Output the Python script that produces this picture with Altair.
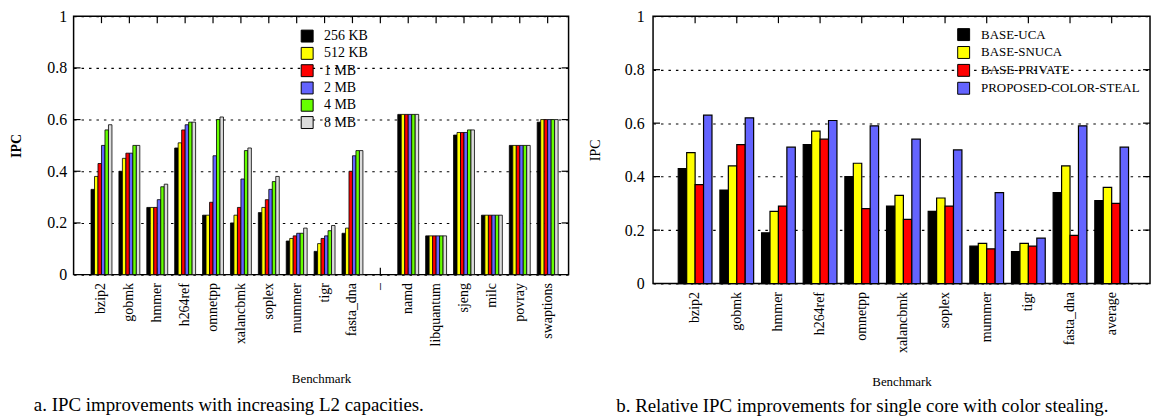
import altair as alt
import pandas as pd

FONT = "Liberation Serif"

# ---------------- Panel a data ----------------
left_categories = ["bzip2", "gobmk", "hmmer", "h264ref", "omnetpp", "xalancbmk", "soplex",
                   "mummer", "tigr", "fasta_dna", "\u2013", "namd", "libquantum", "sjeng",
                   "milc", "povray", "swaptions"]
left_bench = ["bzip2", "gobmk", "hmmer", "h264ref", "omnetpp", "xalancbmk", "soplex",
              "mummer", "tigr", "fasta_dna", "namd", "libquantum", "sjeng", "milc",
              "povray", "swaptions"]
left_series = ["256 KB", "512 KB", "1 MB", "2 MB", "4 MB", "8 MB"]
left_colors = ["#000000", "#ffff00", "#ff0000", "#6464ff", "#66ff00", "#dcdcdc"]
ipc_256kb = [0.33, 0.40, 0.26, 0.49, 0.23, 0.20, 0.24, 0.13, 0.09, 0.16, 0.62, 0.15, 0.54, 0.23, 0.50, 0.59]
ipc_512kb = [0.38, 0.45, 0.26, 0.51, 0.23, 0.23, 0.26, 0.14, 0.12, 0.18, 0.62, 0.15, 0.55, 0.23, 0.50, 0.60]
ipc_1mb = [0.43, 0.47, 0.26, 0.56, 0.28, 0.26, 0.29, 0.15, 0.14, 0.40, 0.62, 0.15, 0.55, 0.23, 0.50, 0.60]
ipc_2mb = [0.50, 0.47, 0.29, 0.58, 0.46, 0.37, 0.33, 0.16, 0.15, 0.46, 0.62, 0.15, 0.55, 0.23, 0.50, 0.60]
ipc_4mb = [0.56, 0.50, 0.34, 0.59, 0.60, 0.48, 0.36, 0.16, 0.17, 0.48, 0.62, 0.15, 0.56, 0.23, 0.50, 0.60]
ipc_8mb = [0.58, 0.50, 0.35, 0.59, 0.61, 0.49, 0.38, 0.18, 0.19, 0.48, 0.62, 0.15, 0.56, 0.23, 0.50, 0.60]
left_values = [ipc_256kb, ipc_512kb, ipc_1mb, ipc_2mb, ipc_4mb, ipc_8mb]

# ---------------- Panel b data ----------------
right_categories = ["bzip2", "gobmk", "hmmer", "h264ref", "omnetpp", "xalancbmk", "soplex",
                    "mummer", "tigr", "fasta_dna", "average"]
right_series = ["BASE-UCA", "BASE-SNUCA", "BASE-PRIVATE", "PROPOSED-COLOR-STEAL"]
right_colors = ["#000000", "#ffff00", "#ff0000", "#6464ff"]
base_uca = [0.43, 0.35, 0.19, 0.52, 0.40, 0.29, 0.27, 0.14, 0.12, 0.34, 0.31]
base_snuca = [0.49, 0.44, 0.27, 0.57, 0.45, 0.33, 0.32, 0.15, 0.15, 0.44, 0.36]
base_private = [0.37, 0.52, 0.29, 0.54, 0.28, 0.24, 0.29, 0.13, 0.14, 0.18, 0.30]
color_steal = [0.63, 0.62, 0.51, 0.61, 0.59, 0.54, 0.50, 0.34, 0.17, 0.59, 0.51]
right_values = [base_uca, base_snuca, base_private, color_steal]

y_ticks = [0, 0.2, 0.4, 0.6, 0.8, 1]
inner_ticks = [0.2, 0.4, 0.6, 0.8]


def long_df(bench, series, values):
    rows = []
    for s, vals in zip(series, values):
        for b, v in zip(bench, vals):
            rows.append({"bench": b, "series": s, "ipc": v})
    return pd.DataFrame(rows)


def panel(categories, bench, series, colors, values, W, H, xscale, legend_x, legend_y,
          legend_font, legend_row_pad, legend_offset, bar_stroke, y_title_weight,
          title_pad, label_pad, x_title_y, caption, cap_dx, cap_offset):
    df = long_df(bench, series, values)
    cat_df = pd.DataFrame({"bench": categories})
    tick_df = pd.DataFrame({"ipc": inner_ticks})

    xs = alt.Scale(domain=categories, **xscale)
    ys = alt.Scale(domain=[0, 1])
    xaxis = alt.Axis(title="Benchmark", labelAngle=-90, labelFontSize=14,
                     labelPadding=8, ticks=False, domain=False, grid=False,
                     titleFontSize=13, titleFontWeight="normal",
                     titleY=x_title_y, titleBaseline="top")
    yaxis = alt.Axis(title="IPC", values=y_ticks, format="~g", labelFontSize=16,
                     labelPadding=label_pad, ticks=False, domain=False,
                     grid=True, gridColor="black", gridDash=[2.5, 5],
                     gridWidth=1.1, titleFontSize=14,
                     titleFontWeight=y_title_weight, titlePadding=title_pad)
    X = alt.X("bench:N", sort=categories, scale=xs, axis=xaxis, title="Benchmark")
    Y = alt.Y("ipc:Q", scale=ys, axis=yaxis, title="IPC")

    bars = alt.Chart(df).mark_bar(stroke="black", strokeWidth=bar_stroke).encode(
        x=X,
        xOffset=alt.XOffset("series:N", sort=series,
                            scale=alt.Scale(domain=series, paddingInner=0, paddingOuter=0)),
        y=Y,
        fill=alt.Fill("series:N", sort=series,
                      scale=alt.Scale(domain=series, range=colors),
                      legend=alt.Legend(orient="none", legendX=legend_x, legendY=legend_y,
                                        title=None, symbolType="square", symbolSize=144,
                                        symbolStrokeColor="black", symbolStrokeWidth=1,
                                        symbolOpacity=1, labelFontSize=legend_font,
                                        labelFont=FONT, rowPadding=legend_row_pad,
                                        labelOffset=legend_offset, labelLimit=0,
                                        padding=0)),
    )

    top_ticks = alt.Chart(cat_df).mark_rule(color="black", strokeWidth=1.2).encode(
        x=X, y=alt.value(0), y2=alt.value(7))
    bottom_ticks = alt.Chart(cat_df).mark_rule(color="black", strokeWidth=1.2).encode(
        x=X, y=alt.value(H), y2=alt.value(H - 7))
    right_ticks = alt.Chart(tick_df).mark_rule(color="black", strokeWidth=1.2).encode(
        y=Y, x=alt.value(W), x2=alt.value(W - 7))
    left_ticks = alt.Chart(tick_df).mark_rule(color="black", strokeWidth=1.2).encode(
        y=Y, x=alt.value(0), x2=alt.value(7))

    return alt.layer(top_ticks, bottom_ticks, right_ticks, left_ticks, bars).properties(
        width=W, height=H,
        title=alt.TitleParams(caption, orient="bottom", anchor="start", dx=cap_dx,
                              offset=cap_offset, fontSize=19, font=FONT,
                              fontWeight="normal", color="black"))


left = panel(left_categories, left_bench, left_series, left_colors, left_values,
             498, 260, dict(paddingInner=0.25, paddingOuter=0.5, align=0.625),
             228, 13, 14, 1.4, 10, 0.8, "bold", 23, 7, 99,
             "a. IPC improvements with increasing L2 capacities.", 24, 10)
right = panel(right_categories, right_categories, right_series, right_colors, right_values,
              500, 269, dict(paddingInner=0.19, paddingOuter=0.56, align=0.54),
              306, 12, 13, 1.0, 11, 1.2, "normal", 22, 9, 93,
              "b. Relative IPC improvements for single core with color stealing.", 28, 8)

chart = alt.hconcat(left, right, spacing=17).resolve_scale(
    fill="independent", x="independent", y="independent", xOffset="independent"
).resolve_legend(fill="independent").properties(
    padding={"left": 1, "top": -2, "right": 0, "bottom": 0}
).configure_view(stroke="black", strokeWidth=1.5).configure_axis(
    labelFont=FONT, titleFont=FONT, labelColor="black", titleColor="black"
).configure_legend(labelColor="black")

chart.save("out.html", embed_options={"renderer": "svg", "actions": False})
